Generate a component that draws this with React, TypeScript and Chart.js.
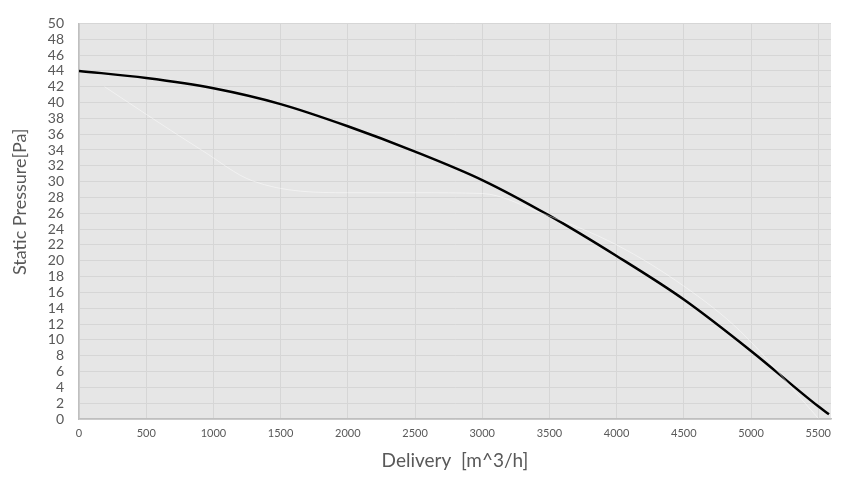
import React, { useEffect, useRef } from "react";
import { Chart, registerables } from "chart.js";

Chart.register(...registerables);

const deliveryValues = [0, 500, 1000, 1500, 2000, 2500, 3000, 3500, 4000, 4500, 5000, 5500, 5580];
const pressureValues = [44, 43.1, 41.8, 39.8, 37.0, 33.8, 30.2, 25.7, 20.6, 15.1, 8.6, 1.6, 0.6];

const ghostDelivery = [190, 510, 920, 1290, 2000, 2500, 3000, 3430, 4000, 4500, 4920, 5500];
const ghostPressure = [42, 38.4, 33.9, 30.1, 28.6, 28.6, 28.5, 26.1, 22, 16.8, 11.1, 0.1];

const xTickValues = [0, 500, 1000, 1500, 2000, 2500, 3000, 3500, 4000, 4500, 5000, 5500];
const xMin = 0;
const xMax = 5595;
const yMin = 0;
const yMax = 50;
const yStep = 2;

const xTitle = "Delivery  [m^3/h]";
const yTitle = "Static Pressure[Pa]";

const FONT = "Lato, 'Open Sans', sans-serif";
const TEXT = "#595959";

const bgPlugin = {
  id: "plotBg",
  beforeDraw(chart: any) {
    const { ctx, chartArea } = chart;
    if (!chartArea) return;
    ctx.save();
    ctx.fillStyle = "#e6e6e6";
    ctx.fillRect(chartArea.left, chartArea.top, chartArea.right - chartArea.left, chartArea.bottom - chartArea.top);
    ctx.restore();
  },
};

const yTitlePlugin = {
  id: "yTitleText",
  afterDraw(chart: any) {
    const { ctx, chartArea } = chart;
    if (!chartArea) return;
    const cy = chartArea.top + (chartArea.bottom - chartArea.top) * 0.451;
    ctx.save();
    ctx.translate(20, cy);
    ctx.rotate(-Math.PI / 2);
    ctx.font = `18px ${FONT}`;
    ctx.fillStyle = TEXT;
    ctx.textAlign = "center";
    ctx.textBaseline = "middle";
    ctx.fillText(yTitle, 0, 0);
    ctx.restore();
  },
};

export default function App() {
  const ref = useRef<HTMLCanvasElement | null>(null);

  useEffect(() => {
    if (!ref.current) return;
    const chart = new Chart(ref.current, {
      type: "line",
      data: {
        datasets: [
          {
            label: "ghost",
            data: ghostDelivery.map((x, i) => ({ x, y: ghostPressure[i] })),
            borderColor: "rgba(255,255,255,0.45)",
            borderWidth: 1,
            pointRadius: 0,
            tension: 0.4,
            cubicInterpolationMode: "monotone",
            fill: false,
          },
          {
            label: "Static Pressure",
            data: deliveryValues.map((x, i) => ({ x, y: pressureValues[i] })),
            borderColor: "#000000",
            borderWidth: 2.5,
            pointRadius: 0,
            tension: 0.4,
            cubicInterpolationMode: "monotone",
            fill: false,
          },
        ],
      },
      options: {
        animation: false,
        responsive: false,
        maintainAspectRatio: false,
        layout: { padding: { top: 19, right: 27, left: 0, bottom: 0 } },
        plugins: {
          legend: { display: false },
          tooltip: { enabled: false },
        },
        scales: {
          x: {
            type: "linear",
            min: xMin,
            max: xMax,
            afterBuildTicks(scale: any) {
              scale.ticks = xTickValues.map((v) => ({ value: v }));
            },
            afterFit(scale: any) {
              scale.height = 64;
            },
            ticks: {
              color: TEXT,
              font: { family: FONT, size: 11 },
              padding: 8,
              maxRotation: 0,
              minRotation: 0,
              autoSkip: false,
              callback: (v: any) => String(v),
            },
            grid: { color: "#d6d6d6", lineWidth: 1, drawTicks: false },
            border: { display: true, color: "#bfbfbf", width: 1.5 },
            title: {
              display: true,
              text: xTitle,
              color: TEXT,
              font: { family: FONT, size: 19 },
              padding: { top: 0, bottom: 11 },
            },
          },
          y: {
            type: "linear",
            min: yMin,
            max: yMax,
            afterFit(scale: any) {
              scale.width = 79;
            },
            ticks: {
              stepSize: yStep,
              color: TEXT,
              font: { family: FONT, size: 14 },
              padding: 15,
              autoSkip: false,
            },
            grid: { color: "#d6d6d6", lineWidth: 1, drawTicks: false },
            border: { display: true, color: "#bfbfbf", width: 1.5 },
            title: { display: false },
          },
        },
      },
      plugins: [bgPlugin, yTitlePlugin],
    });
    return () => chart.destroy();
  }, []);

  return (
    <div style={{ position: "absolute", left: 0, top: 0, width: 858, height: 483, background: "#ffffff" }}>
      <canvas ref={ref} width={858} height={483} style={{ display: "block", width: 858, height: 483 }} />
    </div>
  );
}
